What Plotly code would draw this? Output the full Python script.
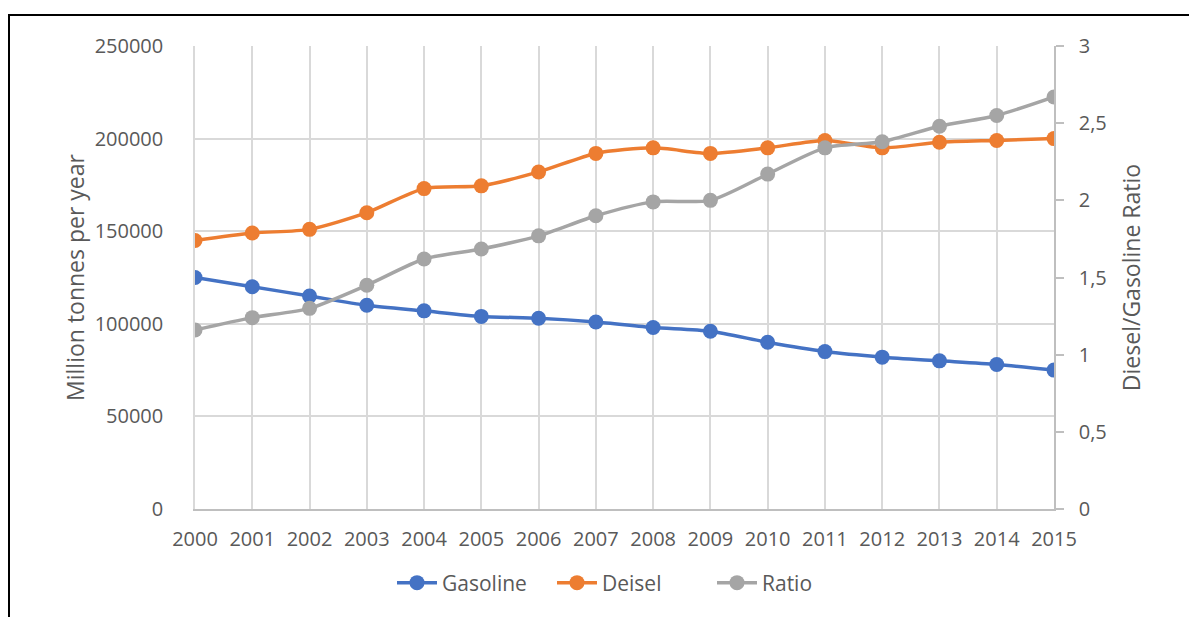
import plotly.graph_objects as go

# Fuel consumption data, 2000-2015
years = list(range(2000, 2016))
gasoline = [125000, 120000, 115000, 110000, 107000, 104000, 103000, 101000,
            98000, 96000, 90000, 85000, 82000, 80000, 78000, 75000]
deisel = [145000, 149000, 151000, 160000, 173000, 174500, 182000, 192000,
          195000, 192000, 195000, 199000, 195000, 198000, 199000, 200000]
ratio = [1.16, 1.24, 1.30, 1.45, 1.62, 1.685, 1.77, 1.90,
         1.99, 2.00, 2.17, 2.34, 2.38, 2.48, 2.55, 2.67]

left_ticks = [0, 50000, 100000, 150000, 200000, 250000]
left_labels = ["0", "50000", "100000", "150000", "200000", "250000"]
right_ticks = [0, 0.5, 1, 1.5, 2, 2.5, 3]
right_labels = ["0", "0,5", "1", "1,5", "2", "2,5", "3"]

FONT = "Open Sans"
TXT = "#595959"
GRID = "#D9D9D9"
AXIS = "#BFBFBF"

W, H = 1189, 617
L, R, T, B = 195, 1054, 46, 509  # plot area in pixels

fig = go.Figure()

def add_series(name, y, color, axis):
    fig.add_trace(go.Scatter(
        x=years, y=y, name=name, yaxis=axis,
        mode="lines+markers",
        line=dict(color=color, width=3.5, shape="spline", smoothing=0.7),
        marker=dict(color=color, size=15),
    ))

add_series("Gasoline", gasoline, "#4472C4", "y")
add_series("Deisel", deisel, "#ED7D31", "y")
add_series("Ratio", ratio, "#A5A5A5", "y2")

# frame lines around the chart
def px_x(p):
    return (p - L) / (R - L)

def px_y(p):
    return (B - p) / (B - T)

frame = dict(color="black", width=2)
fig.add_shape(type="line", xref="paper", yref="paper",
              x0=px_x(9), x1=px_x(9), y0=px_y(H + 5), y1=px_y(14),
              line=frame, layer="above")
fig.add_shape(type="line", xref="paper", yref="paper",
              x0=px_x(8), x1=px_x(W + 5), y0=px_y(15), y1=px_y(15),
              line=frame, layer="above")

fig.update_layout(
    width=W, height=H,
    margin=dict(l=L, r=W - R, t=T, b=H - B, pad=0),
    paper_bgcolor="white", plot_bgcolor="white",
    font=dict(family=FONT, size=20, color=TXT),
    showlegend=True,
    legend=dict(orientation="h", x=px_x(632), xanchor="center",
                y=px_y(583), yanchor="middle",
                font=dict(family=FONT, size=21, color=TXT),
                itemwidth=40, entrywidth=105, entrywidthmode="pixels",
                bgcolor="rgba(0,0,0,0)"),
    xaxis=dict(
        range=[2000, 2015], tickvals=years, ticktext=[str(y) for y in years],
        showgrid=True, gridcolor=GRID, gridwidth=1.5,
        showline=True, linecolor=AXIS, linewidth=1.5,
        ticks="", ticklabelstandoff=11, zeroline=False,
        tickfont=dict(family=FONT, size=20, color=TXT),
    ),
    yaxis=dict(
        range=[0, 250000], tickvals=left_ticks, ticktext=left_labels,
        showgrid=True, gridcolor=GRID, gridwidth=1.5,
        showline=True, linecolor=GRID, linewidth=1.5,
        ticks="", ticklabelstandoff=26, zeroline=False,
        tickfont=dict(family=FONT, size=20, color=TXT),
        title=dict(text="Million tonnes per year", standoff=4,
                   font=dict(family=FONT, size=23, color=TXT)),
    ),
    yaxis2=dict(
        range=[0, 3], tickvals=right_ticks, ticktext=right_labels,
        overlaying="y", side="right", showgrid=False, zeroline=False,
        showline=True, linecolor=AXIS, linewidth=1.5,
        ticks="outside", ticklen=8, tickcolor=AXIS, tickwidth=1.5,
        ticklabelstandoff=11,
        tickfont=dict(family=FONT, size=20, color=TXT),
        title=dict(text="Diesel/Gasoline Ratio", standoff=18,
                   font=dict(family=FONT, size=23, color=TXT)),
    ),
)

fig.write_html("out.html")
